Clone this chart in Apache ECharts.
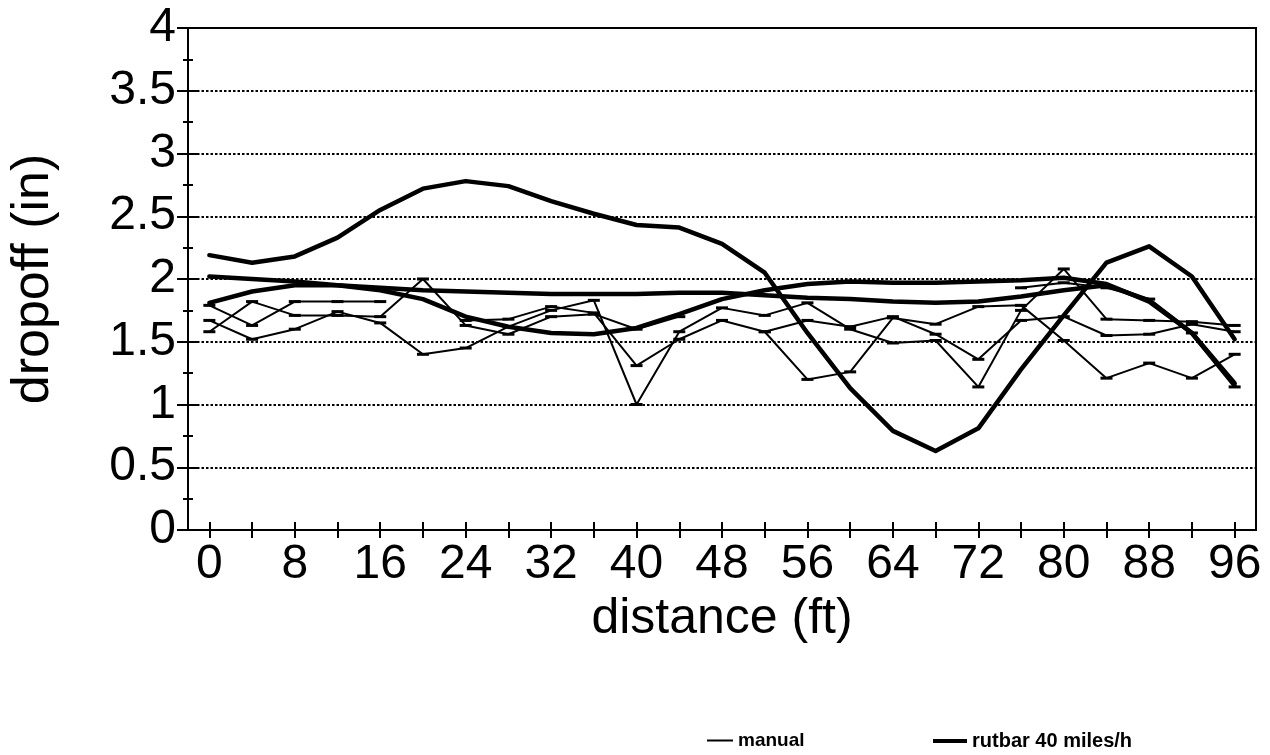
<!DOCTYPE html>
<html>
<head>
<meta charset="utf-8">
<script src="https://cdn.jsdelivr.net/npm/echarts@6/dist/echarts.min.js"></script>
<style>
  html, body { margin: 0; padding: 0; background: #fff; }
  #chart { width: 1270px; height: 755px; }
</style>
</head>
<body>
<div id="chart"></div>
<script>
// distance along the section (ft)
const distance = ['0','4','8','12','16','20','24','28','32','36','40','44','48',
                  '52','56','60','64','68','72','76','80','84','88','92','96'];

// manual measurements of dropoff (in); null = no reading
const manualA = [1.79, 1.63, 1.82, 1.82, 1.82, null, 1.67, 1.68, 1.78, 1.73, 1.31, 1.52, 1.67,
                 1.58, 1.67, 1.62, 1.70, 1.56, 1.36, 1.67, 1.70, 1.55, 1.56, 1.64, 1.58];
const manualB = [1.67, 1.52, 1.60, 1.74, 1.65, 1.40, 1.45, 1.62, 1.75, 1.83, 1.00, 1.58, 1.77,
                 1.71, 1.81, 1.60, 1.49, 1.51, 1.14, 1.75, 2.08, 1.68, 1.67, 1.66, 1.63];
const manualC = [1.58, 1.82, 1.71, 1.71, 1.70, 2.00, 1.63, 1.56, 1.70, 1.72, 1.60, 1.70, null,
                 1.58, 1.20, 1.26, 1.69, 1.64, 1.78, 1.79, 1.51, 1.21, 1.33, 1.21, 1.40];
const manualD = [null, null, null, null, null, null, null, null, null, null, null, null, null,
                 null, null, null, null, null, null, 1.93, 1.97, 1.93, 1.84, 1.57, 1.14];

// rutbar runs at 40 miles/h
const rutbarA = [2.19, 2.13, 2.18, 2.33, 2.55, 2.72, 2.78, 2.74, 2.62, 2.52, 2.43, 2.41, 2.28,
                 2.05, 1.57, 1.13, 0.79, 0.63, 0.81, 1.28, 1.71, 2.13, 2.26, 2.02, 1.52];
const rutbarB = [2.02, 2.00, 1.98, 1.95, 1.93, 1.91, 1.90, 1.89, 1.88, 1.88, 1.88, 1.89, 1.89,
                 1.87, 1.85, 1.84, 1.82, 1.81, 1.82, 1.86, 1.91, 1.95, 1.83, 1.57, 1.17];
const rutbarC = [1.81, 1.90, 1.95, 1.95, 1.91, 1.84, 1.70, 1.62, 1.57, 1.56, 1.61, 1.72, 1.84,
                 1.91, 1.96, 1.98, 1.97, 1.97, 1.98, 1.99, 2.01, 1.96, 1.82, 1.57, 1.15];

const MANUAL = 'manual';
const RUTBAR = 'rutbar 40 miles/h';
const FONT = '"Liberation Sans", Arial, Helvetica, sans-serif';

function manualSeries(values) {
  return {
    name: MANUAL, type: 'line', data: values,
    connectNulls: false,
    symbol: 'rect', symbolSize: [12, 3], showSymbol: true,
    itemStyle: { color: '#000' },
    lineStyle: { color: '#000', width: 2 },
    emphasis: { disabled: true },
    z: 3
  };
}
function rutbarSeries(values) {
  return {
    name: RUTBAR, type: 'line', data: values,
    symbol: 'none',
    itemStyle: { color: '#000' },
    lineStyle: { color: '#000', width: 4.5, join: 'round', cap: 'round' },
    emphasis: { disabled: true },
    z: 4
  };
}

const chart = echarts.init(document.getElementById('chart'), null, { renderer: 'canvas' });

const tickStyle = { color: '#000', width: 2 };

chart.setOption({
  animation: false,
  backgroundColor: '#fff',
  textStyle: { fontFamily: FONT, color: '#000' },
  grid: {
    left: 187, right: 14, top: 28, bottom: 225,
    show: true, borderColor: '#000', borderWidth: 2, backgroundColor: 'transparent'
  },
  legend: [
    {
      data: [MANUAL], left: 702, top: 726,
      icon: 'rect', itemWidth: 26, itemHeight: 2, itemGap: 8,
      itemStyle: { color: '#000' }, lineStyle: { width: 0 },
      textStyle: { fontFamily: FONT, fontSize: 19, fontWeight: 'bold', color: '#000' },
      selectedMode: false
    },
    {
      data: [RUTBAR], left: 928, top: 726,
      icon: 'rect', itemWidth: 34, itemHeight: 4, itemGap: 8,
      itemStyle: { color: '#000' }, lineStyle: { width: 0 },
      textStyle: { fontFamily: FONT, fontSize: 20, fontWeight: 'bold', color: '#000' },
      selectedMode: false
    }
  ],
  xAxis: [
    {
      type: 'category', data: distance, boundaryGap: true, position: 'bottom',
      name: 'distance (ft)', nameLocation: 'middle', nameGap: 53,
      nameTextStyle: { fontFamily: FONT, fontSize: 50, color: '#000' },
      axisLine: { show: true, lineStyle: { color: '#000', width: 2 } },
      axisTick: { show: true, alignWithLabel: true, interval: 0, length: 8, lineStyle: tickStyle },
      axisLabel: { interval: 1, fontFamily: FONT, fontSize: 48, color: '#000', margin: 11 },
      splitLine: { show: false }
    },
    {
      type: 'category', data: distance, boundaryGap: true, position: 'bottom',
      axisLine: { show: false },
      axisTick: { show: true, inside: true, alignWithLabel: true, interval: 0, length: 8, lineStyle: tickStyle },
      axisLabel: { show: false },
      splitLine: { show: false }
    }
  ],
  yAxis: [
    {
      type: 'value', min: 0, max: 4, interval: 0.5, position: 'left',
      name: 'dropoff (in)', nameLocation: 'middle', nameGap: 128, nameRotate: 90,
      nameTextStyle: { fontFamily: FONT, fontSize: 52, color: '#000' },
      axisLine: { show: true, lineStyle: { color: '#000', width: 2 } },
      axisTick: { show: true, length: 11, lineStyle: tickStyle },
      minorTick: { show: true, splitNumber: 2, length: 5, lineStyle: tickStyle },
      axisLabel: { fontFamily: FONT, fontSize: 48, color: '#000', margin: 12 },
      splitLine: { show: true, lineStyle: { color: '#000', width: 2, type: [2.5, 2] } }
    },
    {
      type: 'value', min: 0, max: 4, interval: 0.5, position: 'left',
      axisLine: { show: false },
      axisTick: { show: true, inside: true, length: 11, lineStyle: tickStyle },
      minorTick: { show: true, splitNumber: 2, length: 5, lineStyle: tickStyle },
      axisLabel: { show: false },
      splitLine: { show: false }
    }
  ],
  series: [
    manualSeries(manualA),
    manualSeries(manualB),
    manualSeries(manualC),
    manualSeries(manualD),
    rutbarSeries(rutbarA),
    rutbarSeries(rutbarB),
    rutbarSeries(rutbarC)
  ]
});
</script>
</body>
</html>
